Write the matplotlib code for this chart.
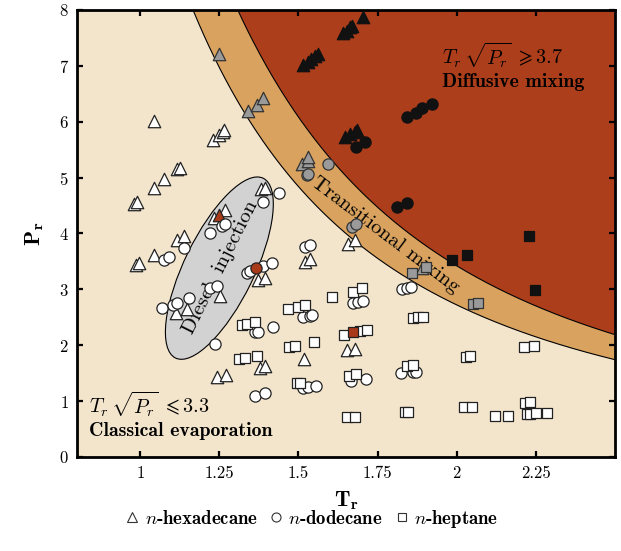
import numpy as np
import matplotlib.pyplot as plt
from matplotlib.patches import Ellipse
from matplotlib.transforms import ScaledTranslation
from matplotlib.lines import Line2D

plt.rcParams['mathtext.fontset'] = 'cm'
plt.rcParams['font.family'] = 'cmr10'
plt.rcParams['axes.unicode_minus'] = False
plt.rcParams['axes.formatter.use_mathtext'] = True

# regime limits on Tr*sqrt(Pr)
classical_limit = 3.3
diffusive_limit = 3.7

# n-hexadecane (triangles)
hex_tr = [1.042, 1.229, 1.248, 1.260, 1.264, 1.116, 1.126, 1.076, 1.042, 0.979, 0.990,
          1.232, 1.269, 1.116, 1.137, 1.042, 0.985, 0.995, 1.383, 1.394, 1.657, 1.678,
          1.520, 1.536, 1.373, 1.394, 1.253, 1.114, 1.148, 1.242, 1.272, 1.518, 1.652,
          1.678, 1.378, 1.394,
          1.248, 1.339, 1.368, 1.389, 1.510, 1.531, 1.531, 1.889,
          1.705, 1.641, 1.652, 1.663, 1.668, 1.515, 1.531, 1.541, 1.552, 1.562,
          1.647, 1.663, 1.678, 1.684,
          1.248]
hex_pr = [6.02, 5.68, 5.76, 5.82, 5.85, 5.15, 5.18, 4.97, 4.81, 4.53, 4.57,
          4.27, 4.42, 3.88, 3.95, 3.61, 3.43, 3.47, 4.79, 4.82, 3.82, 3.88,
          3.49, 3.54, 3.17, 3.21, 2.89, 2.58, 2.64, 1.44, 1.47, 1.75, 1.91,
          1.94, 1.59, 1.62,
          7.21, 6.19, 6.30, 6.42, 5.24, 5.30, 5.37, 3.38,
          7.88, 7.58, 7.63, 7.69, 7.71, 7.01, 7.07, 7.13, 7.17, 7.22,
          5.72, 5.78, 5.82, 5.85,
          4.33]
hex_kind = ['w'] * 36 + ['g'] * 8 + ['k'] * 14 + ['r']

# n-dodecane (circles)
dod_tr = [1.439, 1.389, 1.221, 1.258, 1.269, 1.137, 1.074, 1.090, 1.520, 1.536,
          1.389, 1.415, 1.337, 1.348, 1.221, 1.242, 1.069, 1.105, 1.116, 1.153,
          1.826, 1.842, 1.857, 1.673, 1.689, 1.705, 1.237, 1.362, 1.373, 1.418,
          1.515, 1.536, 1.542, 1.515, 1.531, 1.557, 1.362, 1.394, 1.666, 1.715,
          1.823, 1.861, 1.873,
          1.594, 1.526, 1.531, 1.668, 1.681,
          1.842, 1.873, 1.889, 1.921, 1.681, 1.711, 1.810, 1.842,
          1.366]
dod_pr = [4.73, 4.57, 4.01, 4.13, 4.17, 3.74, 3.52, 3.58, 3.75, 3.79,
          3.42, 3.48, 3.29, 3.33, 3.02, 3.06, 2.66, 2.72, 2.75, 2.84,
          3.00, 3.03, 3.05, 2.75, 2.78, 2.80, 2.03, 2.23, 2.24, 2.33,
          2.50, 2.52, 2.54, 1.23, 1.25, 1.27, 1.10, 1.14, 1.36, 1.40,
          1.50, 1.53, 1.53,
          5.25, 5.04, 5.06, 4.12, 4.17,
          6.08, 6.16, 6.24, 6.32, 5.55, 5.64, 4.48, 4.55,
          3.38]
dod_kind = ['w'] * 43 + ['g'] * 5 + ['k'] * 8 + ['r']

# n-heptane (squares)
hep_tr = [1.673, 1.700, 1.605, 1.468, 1.499, 1.520, 1.321, 1.337, 1.362, 1.863,
          1.878, 1.894, 1.471, 1.489, 1.550, 1.645, 1.694, 1.717, 1.311, 1.332,
          1.370, 1.496, 1.505, 1.660, 1.682, 1.652, 1.678, 1.844, 1.863, 1.836,
          1.847, 2.212, 2.245, 2.029, 2.042, 2.024, 2.050, 2.121, 2.161, 2.215,
          2.233, 2.223, 2.231, 2.250, 2.286,
          1.859, 1.902, 2.052, 2.068,
          2.229, 2.034, 1.986, 2.249,
          1.673]
hep_pr = [2.96, 3.03, 2.86, 2.64, 2.69, 2.72, 2.36, 2.38, 2.42, 2.48,
          2.50, 2.51, 1.97, 1.99, 2.05, 2.19, 2.25, 2.28, 1.75, 1.77,
          1.81, 1.32, 1.32, 1.45, 1.48, 0.72, 0.72, 1.63, 1.64, 0.80,
          0.81, 1.96, 1.99, 1.79, 1.81, 0.89, 0.90, 0.73, 0.74, 0.97,
          0.99, 0.77, 0.77, 0.78, 0.79,
          3.30, 3.40, 2.74, 2.76,
          3.95, 3.61, 3.52, 2.99,
          2.23]
hep_kind = ['w'] * 45 + ['g'] * 4 + ['k'] * 4 + ['r']

x_ticks = [1, 1.25, 1.5, 1.75, 2, 2.25]
x_ticklabels = ['1', '1.25', '1.5', '1.75', '2', '2.25']
y_ticks = [0, 1, 2, 3, 4, 5, 6, 7, 8]

fill = {'w': 'white', 'g': '#9a9a9a', 'k': '#111111', 'r': '#a83a1a'}
edge = {'w': '#222222', 'g': '#333333', 'k': '#111111', 'r': '#222222'}

fig = plt.figure(figsize=(6.21, 5.51), dpi=100)
ax = fig.add_axes([0.124, 0.1706, 0.866, 0.8113])
ax.set_xlim(0.8, 2.5)
ax.set_ylim(0, 8)

# regime backgrounds
tr = np.linspace(0.8, 2.5, 400)
low = (classical_limit / tr) ** 2
high = (diffusive_limit / tr) ** 2
ax.fill_between(tr, 0, low, color='#f3e4cc', lw=0, zorder=0)
ax.fill_between(tr, low, high, color='#d9a35f', lw=0, zorder=0)
ax.fill_between(tr, high, 20, color='#ad3e1b', lw=0, zorder=0)
ax.plot(tr, low, color='k', lw=0.8, zorder=1)
ax.plot(tr, high, color='k', lw=0.8, zorder=1)

# diesel injection ellipse (size in inches, centred in data coords)
ell = Ellipse((0, 0), width=2.0, height=0.70, angle=64,
              transform=fig.dpi_scale_trans + ScaledTranslation(1.25, 3.38, ax.transData),
              facecolor='#d2d2d2', edgecolor='k', lw=0.8, zorder=2)
ax.add_patch(ell)
ax.text(1.255, 3.4, 'Diesel  injection', rotation=63.5, ha='center', va='center',
        fontsize=15, zorder=3)
ax.text(1.775, 3.98, 'Transitional mixing', rotation=-37, ha='center', va='center',
        fontsize=15, zorder=3)

ax.text(1.955, 7.01, r'$T_r\,\sqrt{P_r}\;\geqslant 3.7$', fontsize=14.5, va='baseline', zorder=3)
ax.text(1.955, 6.63, 'Diffusive mixing', family='cmb10', fontsize=14.3, va='baseline', zorder=3)
ax.text(0.837, 0.76, r'$T_r\,\sqrt{P_r}\;\leqslant 3.3$', fontsize=14.5, va='baseline', zorder=3)
ax.text(0.837, 0.38, 'Classical evaporation', family='cmb10', fontsize=14.3, va='baseline', zorder=3)

for xs, ys, kinds, mk, s in [(hex_tr, hex_pr, hex_kind, '^', 80),
                             (dod_tr, dod_pr, dod_kind, 'o', 65),
                             (hep_tr, hep_pr, hep_kind, 's', 55)]:
    for k in ['w', 'g', 'k', 'r']:
        px = [x for x, kk in zip(xs, kinds) if kk == k]
        py = [y for y, kk in zip(ys, kinds) if kk == k]
        ax.scatter(px, py, marker=mk, s=s, c=fill[k], edgecolors=edge[k],
                   linewidths=0.9, zorder=4, clip_on=False)

ax.set_xticks(x_ticks)
ax.set_xticklabels(x_ticklabels)
ax.set_yticks(y_ticks)
ax.tick_params(direction='in', top=True, right=True, length=4, width=1.6, labelsize=12, pad=6)
for sp in ax.spines.values():
    sp.set_linewidth(2)
ax.set_xlabel(r'$\mathbf{T_r}$', fontsize=16, labelpad=6)
ax.set_ylabel(r'$\mathbf{P_r}$', fontsize=16, labelpad=9)

handles = [Line2D([], [], marker='^', ls='', mfc='w', mec='#333', ms=6.5, mew=0.8),
           Line2D([], [], marker='o', ls='', mfc='w', mec='#333', ms=6.5, mew=0.8),
           Line2D([], [], marker='s', ls='', mfc='w', mec='#333', ms=6, mew=0.8)]
labels = [r'$n$-hexadecane', r'$n$-dodecane', r'$n$-heptane']
fig.legend(handles, labels, loc='center', bbox_to_anchor=(0.5, 0.058), ncol=3,
           frameon=False, prop={'family': 'cmb10', 'size': 13.5},
           handletextpad=0.15, columnspacing=0.5, handlelength=1.0)

fig.savefig('out.png', dpi=100)
